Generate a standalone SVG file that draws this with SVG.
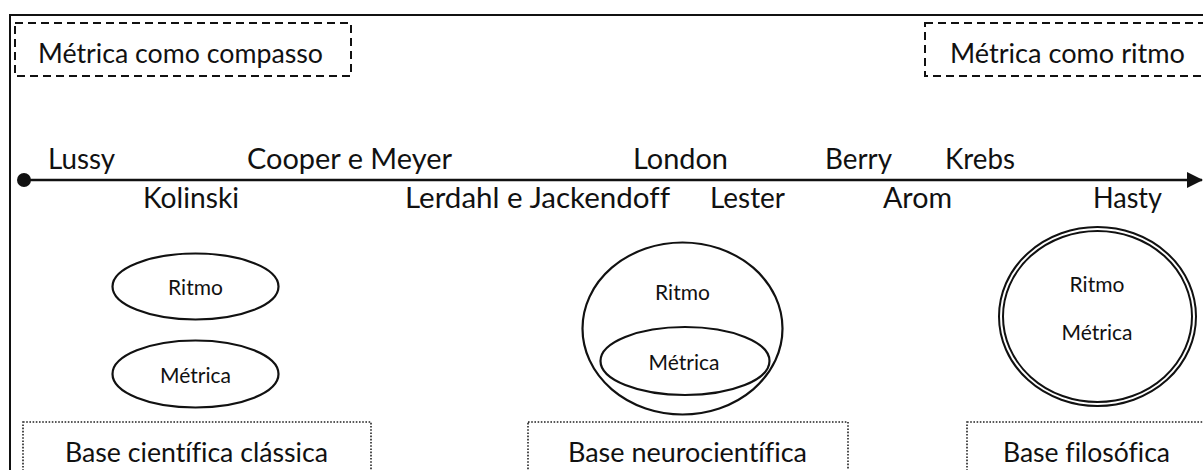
<svg xmlns="http://www.w3.org/2000/svg" width="1203" height="470" viewBox="0 0 1203 470">
  <defs>
    <style>
      text { font-family: Lato, "Open Sans", "Liberation Sans", sans-serif; fill: #111; font-variant-ligatures: none; font-feature-settings: "liga" 0, "clig" 0; }
      .tl { font-size: 28px; }
      .hd { font-size: 26px; }
      .el { font-size: 21px; }
      .dash { fill: none; stroke: #111; stroke-width: 2; stroke-dasharray: 8 5; }
      .dot { fill: none; stroke: #222; stroke-width: 1.6; stroke-dasharray: 1.6 1.6; }
      .ell { fill: none; stroke: #111; stroke-width: 2.2; }
    </style>
    <marker id="arrow" viewBox="0 0 16 16" refX="15" refY="8" markerWidth="16" markerHeight="16" markerUnits="userSpaceOnUse" orient="auto">
      <path d="M0,0 L16,8 L0,16 Z" fill="#111"/>
    </marker>
  </defs>
  <rect x="0" y="0" width="1203" height="470" fill="#fff"/>
  <rect x="10" y="15" width="1220" height="500" fill="none" stroke="#111" stroke-width="2"/>

  <g id="header-compasso">
    <rect class="dash" x="15" y="23" width="336" height="53"/>
    <text class="hd" x="38" y="63" textLength="285" lengthAdjust="spacingAndGlyphs">Métrica como compasso</text>
  </g>
  <g id="header-ritmo">
    <rect class="dash" x="925" y="23" width="300" height="53"/>
    <text class="hd" x="950" y="63" textLength="235" lengthAdjust="spacingAndGlyphs">Métrica como ritmo</text>
  </g>

  <g id="connectors">
    <circle cx="24" cy="180" r="7" fill="#111"/>
    <line x1="24" y1="180" x2="1202" y2="180" stroke="#111" stroke-width="2.4" marker-end="url(#arrow)"/>
  </g>

  <g id="timeline-labels">
    <text class="tl" x="48" y="169" textLength="67" lengthAdjust="spacingAndGlyphs">Lussy</text>
    <text class="tl" x="247" y="169" textLength="205" lengthAdjust="spacingAndGlyphs">Cooper e Meyer</text>
    <text class="tl" x="633" y="169" textLength="95" lengthAdjust="spacingAndGlyphs">London</text>
    <text class="tl" x="825" y="169" textLength="67" lengthAdjust="spacingAndGlyphs">Berry</text>
    <text class="tl" x="945" y="169" textLength="70" lengthAdjust="spacingAndGlyphs">Krebs</text>
    <text class="tl" x="143" y="208" textLength="96" lengthAdjust="spacingAndGlyphs">Kolinski</text>
    <text class="tl" x="405" y="208" textLength="265" lengthAdjust="spacingAndGlyphs">Lerdahl e Jackendoff</text>
    <text class="tl" x="710" y="208" textLength="75" lengthAdjust="spacingAndGlyphs">Lester</text>
    <text class="tl" x="883" y="208" textLength="69" lengthAdjust="spacingAndGlyphs">Arom</text>
    <text class="tl" x="1093" y="208" textLength="69" lengthAdjust="spacingAndGlyphs">Hasty</text>
  </g>

  <g id="classica">
    <ellipse class="ell" cx="195.5" cy="286.5" rx="83" ry="33"/>
    <text class="el" x="195.5" y="295" text-anchor="middle">Ritmo</text>
    <ellipse class="ell" cx="195.5" cy="374" rx="83" ry="33.5"/>
    <text class="el" x="195.5" y="383" text-anchor="middle">Métrica</text>
  </g>
  <g id="base-classica">
    <rect class="dot" x="23" y="422" width="348" height="70"/>
    <text class="hd" x="65" y="462" textLength="263" lengthAdjust="spacingAndGlyphs">Base científica clássica</text>
  </g>

  <g id="neuro">
    <ellipse class="ell" cx="682.5" cy="328.5" rx="100" ry="86"/>
    <text class="el" x="682.5" y="300" text-anchor="middle">Ritmo</text>
    <ellipse class="ell" cx="685" cy="361" rx="84.5" ry="34"/>
    <text class="el" x="684" y="370" text-anchor="middle">Métrica</text>
  </g>
  <g id="base-neuro">
    <rect class="dot" x="528" y="422" width="320" height="70"/>
    <text class="hd" x="568" y="462" textLength="239" lengthAdjust="spacingAndGlyphs">Base neurocientífica</text>
  </g>

  <g id="filosofica">
    <ellipse cx="1097.5" cy="316.5" rx="96.5" ry="87.5" fill="none" stroke="#111" stroke-width="6"/>
    <ellipse cx="1097.5" cy="316.5" rx="96.5" ry="87.5" fill="none" stroke="#fff" stroke-width="2"/>
    <text class="el" x="1097" y="292" text-anchor="middle">Ritmo</text>
    <text class="el" x="1097" y="340" text-anchor="middle">Métrica</text>
  </g>
  <g id="base-filosofica">
    <rect class="dot" x="967" y="422" width="260" height="70"/>
    <text class="hd" x="1003" y="462" textLength="167" lengthAdjust="spacingAndGlyphs">Base filosófica</text>
  </g>
</svg>
